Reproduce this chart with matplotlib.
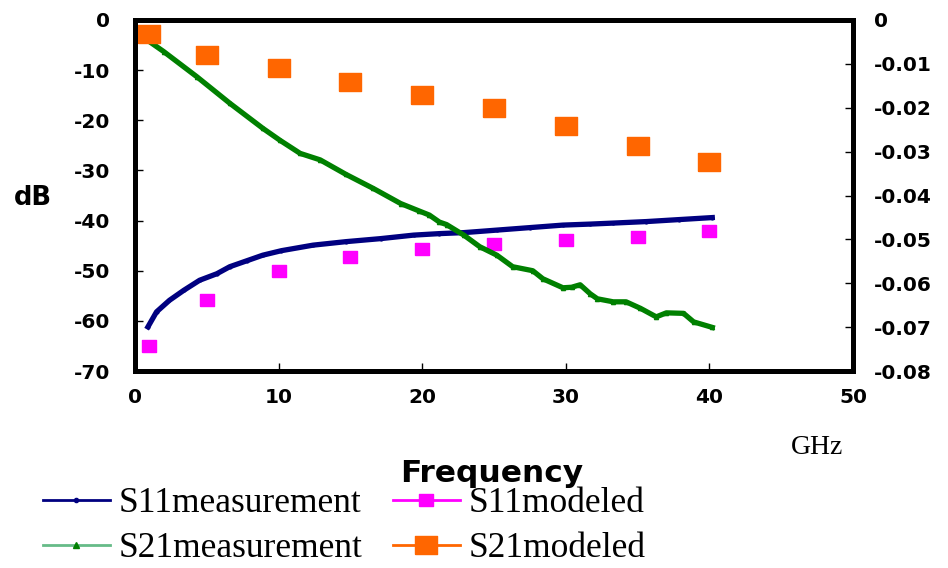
import matplotlib
matplotlib.use("Agg")
import matplotlib.pyplot as plt
from matplotlib.lines import Line2D

plt.rcParams["axes.unicode_minus"] = False

# S11 measurement (dB)
s11_meas_f = [0.9, 1.5, 2.4, 3.4, 4.5, 5.7, 6.6, 7.8, 8.9, 10.2, 12.4, 14.7,
              17.1, 19.4, 21.2, 22.9, 25.2, 27.5, 29.8, 31.7, 33.3, 35.6, 37.9, 40.2]
s11_meas_db = [-61.2, -58.2, -55.9, -53.9, -51.9, -50.6, -49.2, -48.0, -46.9, -46.0,
               -44.9, -44.2, -43.6, -42.9, -42.6, -42.4, -41.9, -41.4, -40.9, -40.7,
               -40.5, -40.2, -39.8, -39.4]

# S21 measurement (dB)
s21_meas_f = [0.7, 2.0, 4.3, 6.6, 8.9, 10.1, 11.5, 12.9, 14.7, 16.6, 18.5, 19.8,
              20.5, 21.2, 21.7, 22.9, 24.0, 25.2, 26.3, 27.7, 28.4, 29.8, 30.4, 31.0,
              31.7, 32.2, 33.3, 34.2, 35.2, 36.3, 37.0, 38.2, 38.9, 40.2]
s21_meas_db = [-3.7, -6.3, -11.3, -16.6, -21.6, -24.0, -26.6, -27.9, -30.8, -33.6,
               -36.6, -38.1, -38.9, -40.3, -40.8, -42.9, -45.2, -46.9, -49.2, -50.0,
               -51.6, -53.4, -53.3, -52.8, -54.6, -55.6, -56.2, -56.2, -57.5, -59.2,
               -58.4, -58.5, -60.2, -61.3]

# modeled points
model_f = [1, 5, 10, 15, 20, 25, 30, 35, 40]
s11_model_db = [-65.1, -55.9, -50.1, -47.3, -45.7, -44.7, -43.9, -43.3, -42.1]
s21_model = [-0.0032, -0.0080, -0.0109, -0.0141, -0.0171, -0.0200, -0.0241, -0.0287, -0.0323]

x_ticks = [0, 10, 20, 30, 40, 50]
left_ticks = [0, -10, -20, -30, -40, -50, -60, -70]
right_ticks = [0, -0.01, -0.02, -0.03, -0.04, -0.05, -0.06, -0.07, -0.08]

navy = "#000080"
green = "#008000"
magenta = "#ff00ff"
orange = "#ff6600"

# wide rectangle marker like the original
rect = [(-1.3, -1), (1.3, -1), (1.3, 1), (-1.3, 1), (-1.3, -1)]

fig = plt.figure(figsize=(9.48, 5.68), dpi=100)
ax = fig.add_axes([0.1424, 0.3468, 0.7574, 0.618])
ax2 = ax.twinx()

ax.plot(s11_meas_f, s11_meas_db, color=navy, lw=3.8, marker="o", ms=2)
ax.plot(model_f, s11_model_db, ls="none", marker=rect, ms=10.5, color=magenta)
ax.plot(s21_meas_f, s21_meas_db, color=green, lw=3.8, marker="^", ms=3)
ax2.plot(model_f, s21_model, ls="none", marker=rect, ms=16, color=orange)

ax.set_xlim(0, 50)
ax.set_ylim(-70, 0)
ax2.set_ylim(-0.08, 0)
ax.set_xticks(x_ticks)
ax.set_yticks(left_ticks)
ax2.set_yticks(right_ticks)
ax2.set_yticklabels(["0"] + ["%.2f" % v for v in right_ticks[1:]])

tick_font = dict(family="DejaVu Sans", weight="bold", size=14.5)
for lab in ax.get_xticklabels() + ax.get_yticklabels() + ax2.get_yticklabels():
    lab.set_fontproperties(matplotlib.font_manager.FontProperties(**tick_font))

ax.tick_params(axis="x", direction="in", length=6, width=1, pad=12)
ax.tick_params(axis="y", direction="in", length=6, width=1, pad=18)
ax2.tick_params(axis="y", direction="in", length=6, width=1, pad=15)

for a in (ax, ax2):
    for sp in a.spines.values():
        sp.set_linewidth(3.6)

fig.text(0.035, 0.652, "dB", fontsize=18.5, fontweight="bold", family="DejaVu Sans",
         ha="center", va="center")
fig.text(0.862, 0.213, "GHz", fontsize=20, family="Liberation Serif",
         ha="center", va="center")
fig.text(0.519, 0.167, "Frequency", fontsize=22.5, fontweight="bold", family="DejaVu Sans",
         ha="center", va="center")

handles = [
    Line2D([], [], color=navy, lw=2, marker="o", ms=3),
    Line2D([], [], color="#66bb88", lw=2, marker="^", mfc=green, mec=green, ms=5),
    Line2D([], [], color=magenta, lw=2, marker=rect, ms=10.5),
    Line2D([], [], color=orange, lw=2, marker=rect, ms=16),
]
labels = ["S11measurement", "S21measurement", "S11modeled", "S21modeled"]
fig.legend(handles, labels, ncol=2, loc="upper left", bbox_to_anchor=(0.045, 0.142),
           frameon=False, prop=dict(family="Liberation Serif", size=25.5),
           handlelength=1.9, handletextpad=0.25, columnspacing=0.85,
           labelspacing=0.34, borderpad=0, borderaxespad=0)

fig.savefig("out.png", dpi=100)
